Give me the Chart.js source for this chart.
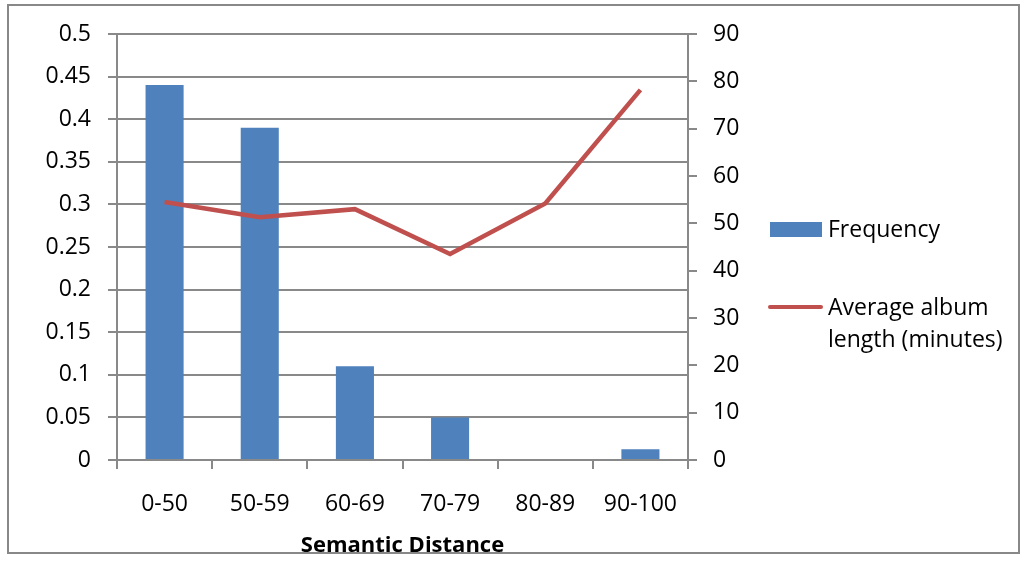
<!DOCTYPE html>
<html>
<head>
<meta charset="utf-8">
<script src="https://cdn.jsdelivr.net/npm/chart.js@4/dist/chart.umd.min.js"></script>
<style>
  html, body { margin: 0; padding: 0; background: #ffffff; }
  #wrap { width: 1026px; height: 563px; }
</style>
</head>
<body>
<div id="wrap"><canvas id="c" width="1026" height="563"></canvas></div>
<script>
// Semantic-distance buckets
const categories = ['0-50', '50-59', '60-69', '70-79', '80-89', '90-100'];
// Share of albums in each bucket (left axis)
const frequency = [0.44, 0.39, 0.11, 0.05, 0, 0.0125];
// Average album length in minutes (right axis)
const avgLength = [54.5, 51.3, 53.0, 43.5, 54.2, 78.2];
const seriesNames = ['Frequency', 'Average album length (minutes)'];
const axisTitle = 'Semantic Distance';

const FONT = '"Open Sans", "Liberation Sans", sans-serif';
const GRID = '#898989';
const TICK_SIZE = 23;

// Frame around the whole chart plus a legend on the right side
const frameAndLegend = {
  id: 'frameAndLegend',
  afterDraw(chart) {
    const ctx = chart.ctx;
    ctx.save();
    ctx.strokeStyle = '#888888';
    ctx.lineWidth = 2;
    ctx.strokeRect(8, 5, 1011, 548);

    const ds = chart.data.datasets;
    const bar = ds.find(d => d.type === 'bar');
    const line = ds.find(d => d.type === 'line');
    ctx.font = '23px ' + FONT;
    ctx.textBaseline = 'middle';
    ctx.textAlign = 'left';

    // bar entry
    ctx.fillStyle = bar.backgroundColor;
    ctx.fillRect(770, 222, 52, 15);
    ctx.fillStyle = '#000';
    ctx.fillText(bar.label, 828, 230);

    // line entry
    ctx.strokeStyle = line.borderColor;
    ctx.lineWidth = 4;
    ctx.lineCap = 'round';
    ctx.beginPath();
    ctx.moveTo(770, 307);
    ctx.lineTo(821, 307);
    ctx.stroke();

    const words = line.label.split(' ');
    const lines = [];
    let cur = '';
    words.forEach(w => {
      const t = cur ? cur + ' ' + w : w;
      if (ctx.measureText(t).width > 185 && cur) { lines.push(cur); cur = w; }
      else cur = t;
    });
    if (cur) lines.push(cur);
    lines.forEach((ln, i) => ctx.fillText(ln, 828, 308 + i * 32));
    ctx.restore();
  }
};

new Chart(document.getElementById('c'), {
  data: {
    labels: categories,
    datasets: [
      {
        type: 'line',
        label: seriesNames[1],
        data: avgLength,
        yAxisID: 'y1',
        borderColor: '#C0504D',
        borderWidth: 4.5,
        pointRadius: 0,
        tension: 0,
        fill: false,
        order: 0
      },
      {
        type: 'bar',
        label: seriesNames[0],
        data: frequency,
        yAxisID: 'y',
        backgroundColor: '#4F81BD',
        borderWidth: 0,
        categoryPercentage: 1,
        barPercentage: 0.4,
        order: 1
      }
    ]
  },
  options: {
    responsive: false,
    animation: false,
    devicePixelRatio: 1,
    layout: { padding: { top: 34, left: 0, right: 0, bottom: 0 } },
    plugins: { legend: { display: false }, tooltip: { enabled: false } },
    scales: {
      x: {
        type: 'category',
        offset: true,
        grid: { offset: true, drawOnChartArea: false, drawTicks: true, tickLength: 9, color: GRID, lineWidth: 2 },
        border: { display: true, color: GRID, width: 2 },
        ticks: { color: '#000', font: { family: FONT, size: TICK_SIZE }, padding: 22, maxRotation: 0 },
        title: { display: true, text: axisTitle, color: '#000', font: { family: FONT, size: 22, weight: 'bold' }, padding: { top: 0, bottom: 4 } },
        afterFit(s) { s.height = 103; }
      },
      y: {
        position: 'left',
        min: 0, max: 0.5,
        ticks: {
          stepSize: 0.05,
          color: '#000',
          font: { family: FONT, size: TICK_SIZE },
          padding: 17,
          callback: v => String(parseFloat(Number(v).toFixed(2)))
        },
        grid: { color: GRID, lineWidth: 2, tickLength: 9, drawTicks: true },
        border: { display: true, color: GRID, width: 2 },
        afterFit(s) { s.width = 117; }
      },
      y1: {
        position: 'right',
        min: 0, max: 90,
        ticks: { stepSize: 10, color: '#000', font: { family: FONT, size: TICK_SIZE }, padding: 16 },
        grid: { drawOnChartArea: false, color: GRID, lineWidth: 2, tickLength: 9, drawTicks: true },
        border: { display: true, color: GRID, width: 2 },
        afterFit(s) { s.width = 1026 - 688; }
      }
    }
  },
  plugins: [frameAndLegend]
});
</script>
</body>
</html>
